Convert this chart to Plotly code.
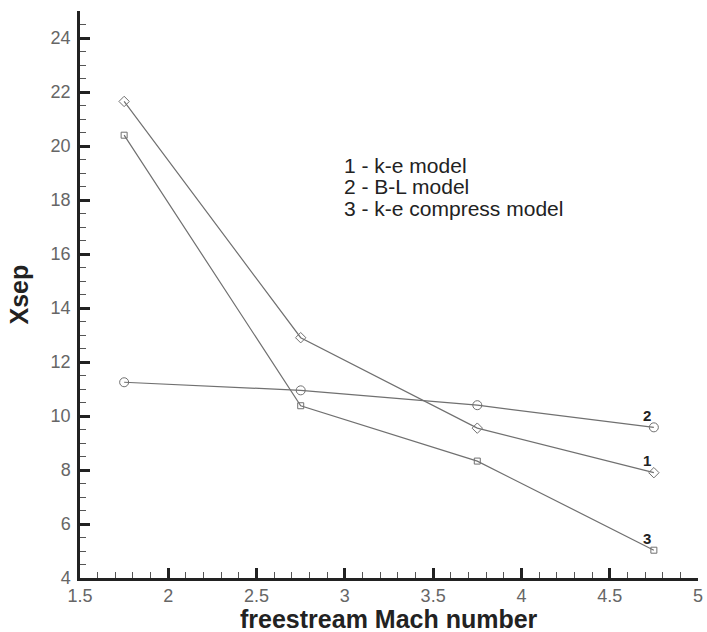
import plotly.graph_objects as go

mach = [1.75, 2.75, 3.75, 4.75]
ke_model = [21.65, 12.9, 9.55, 7.9]
bl_model = [11.25, 10.95, 10.4, 9.58]
ke_compress = [20.4, 10.38, 8.33, 5.03]
series_names = ["1 - k-e model", "2 - B-L model", "3 - k-e compress model"]
end_labels = ["1", "2", "3"]
x_title = "freestream Mach number"
y_title = "Xsep"

FONT = "Liberation Sans, Arial, sans-serif"
fig = go.Figure()
line_color = "#707070"
symbols = ["diamond-open", "circle-open", "square-open"]
sizes = [8, 9, 6]
for ys, sym, sz, nm in zip([ke_model, bl_model, ke_compress], symbols, sizes, series_names):
    fig.add_trace(go.Scatter(x=mach, y=ys, mode="lines+markers", name=nm,
                             line=dict(color=line_color, width=1.2),
                             marker=dict(symbol=sym, size=sz, color=line_color,
                                         line=dict(color=line_color, width=1))))

for ys, lab in zip([ke_model, bl_model, ke_compress], end_labels):
    fig.add_annotation(x=mach[-1], y=ys[-1], text="<b>" + lab + "</b>", showarrow=False,
                       xshift=-7, yshift=12, font=dict(family=FONT, size=15, color="#222"))

legend_y = [0.7275, 0.6896, 0.6508]
for nm, yy in zip(series_names, legend_y):
    fig.add_annotation(x=0.425, y=yy, xref="paper", yref="paper", xanchor="left", yanchor="middle",
                       align="left", showarrow=False, text=nm, borderpad=0,
                       font=dict(family=FONT, size=21, color="#222"))

# axis titles
fig.add_annotation(x=0.5, y=-0.0715, xref="paper", yref="paper", xanchor="center", yanchor="middle",
                   showarrow=False, text="<b>" + x_title + "</b>",
                   font=dict(family=FONT, size=25, color="#222"))
fig.add_annotation(x=-0.1003, y=0.50, xref="paper", yref="paper", xanchor="center", yanchor="middle",
                   showarrow=False, text="<b>" + y_title + "</b>", textangle=-90,
                   font=dict(family=FONT, size=25, color="#222"))

axis_common = dict(showline=True, linecolor="#222", linewidth=2.5, ticks="inside",
                   tickwidth=2.5, ticklen=10, tickcolor="#222", showgrid=False, zeroline=False,
                   tickfont=dict(family=FONT, size=18, color="#666"),
                   mirror=False, automargin=False)
fig.update_xaxes(range=[1.5, 5], dtick=0.5, tick0=1.5,
                 minor=dict(ticks="inside", dtick=0.1, ticklen=6, tickwidth=1, tickcolor="#555"),
                 **axis_common)
fig.update_yaxes(range=[4, 25], dtick=2, tick0=4, ticklabelstandoff=3,
                 minor=dict(ticks="inside", dtick=0.5, ticklen=6, tickwidth=1, tickcolor="#555"),
                 **axis_common)
fig.update_layout(width=707, height=632, margin=dict(l=80, r=9, t=11, b=54),
                  plot_bgcolor="white", paper_bgcolor="white", showlegend=False)
fig.write_html("out.html", config={"displayModeBar": False},
               post_script="document.body.style.margin='0';document.body.style.overflow='hidden';")
